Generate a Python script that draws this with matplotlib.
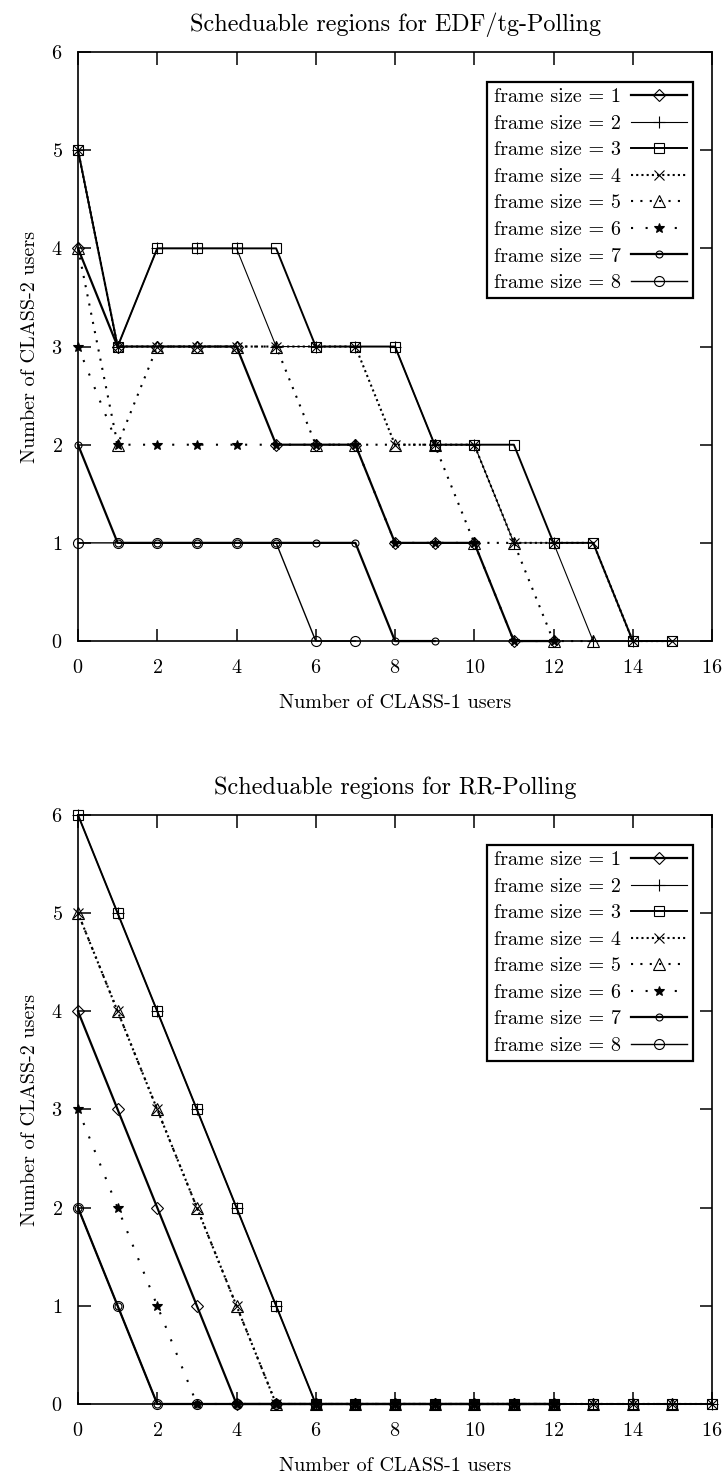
import matplotlib
matplotlib.use("Agg")
import matplotlib.pyplot as plt
from matplotlib.legend_handler import HandlerLine2D

plt.rcParams['font.family'] = ['cmr10', 'DejaVu Serif']
plt.rcParams['axes.formatter.use_mathtext'] = True
plt.rcParams['font.size'] = 14.5

# frame sizes 1..8, values of CLASS-2 users for CLASS-1 users = 0, 1, 2, ...
frames = [1, 2, 3, 4, 5, 6, 7, 8]

edf_f1 = [4, 3, 3, 3, 3, 2, 2, 2, 1, 1, 1, 0, 0]
edf_f2 = [5, 3, 4, 4, 4, 3, 3, 3, 3, 2, 2, 1, 1, 0, 0]
edf_f3 = [5, 3, 4, 4, 4, 4, 3, 3, 3, 2, 2, 2, 1, 1, 0, 0]
edf_f4 = [5, 3, 3, 3, 3, 3, 3, 3, 2, 2, 2, 1, 1, 1, 0, 0]
edf_f5 = [4, 2, 3, 3, 3, 3, 2, 2, 2, 2, 1, 1, 0, 0]
edf_f6 = [3, 2, 2, 2, 2, 2, 2, 2, 1, 1, 1, 0, 0]
edf_f7 = [2, 1, 1, 1, 1, 1, 1, 1, 0, 0]
edf_f8 = [1, 1, 1, 1, 1, 1, 0, 0]

rr_f1 = [4, 3, 2, 1, 0, 0, 0, 0, 0, 0, 0, 0, 0]
rr_f2 = [6, 5, 4, 3, 2, 1, 0, 0, 0, 0, 0, 0, 0, 0, 0, 0, 0]
rr_f3 = [6, 5, 4, 3, 2, 1, 0, 0, 0, 0, 0, 0, 0, 0, 0, 0, 0]
rr_f4 = [5, 4, 3, 2, 1, 0, 0, 0, 0, 0, 0, 0, 0, 0, 0, 0, 0]
rr_f5 = [5, 4, 3, 2, 1, 0, 0, 0, 0, 0, 0, 0, 0, 0, 0, 0]
rr_f6 = [3, 2, 1, 0, 0, 0, 0, 0, 0, 0, 0, 0, 0]
rr_f7 = [2, 1, 0, 0, 0, 0, 0, 0, 0, 0, 0, 0, 0]
rr_f8 = [2, 1, 0, 0, 0, 0, 0, 0, 0, 0, 0, 0, 0]

edf = [edf_f1, edf_f2, edf_f3, edf_f4, edf_f5, edf_f6, edf_f7, edf_f8]
rr = [rr_f1, rr_f2, rr_f3, rr_f4, rr_f5, rr_f6, rr_f7, rr_f8]

titles = ["Scheduable regions for EDF/tg-Polling", "Scheduable regions for RR-Polling"]

# gnuplot-like line types
styles = [
    dict(ls='-', lw=1.6, marker='D', ms=6, mfc='none'),
    dict(ls='-', lw=0.8, marker='+', ms=8, mfc='none'),
    dict(ls='-', lw=1.4, marker='s', ms=7.5, mfc='none'),
    dict(ls=(0, (1, 1.5)), lw=1.5, marker='x', ms=6.5, mfc='none'),
    dict(ls=(0, (1, 3.5)), lw=1.5, marker='^', ms=9, mfc='none'),
    dict(ls=(0, (1, 6)), lw=1.5, marker='*', ms=7, mfc='k'),
    dict(ls='-', lw=1.6, marker='o', ms=5, mfc='none'),
    dict(ls='-', lw=1.0, marker='o', ms=7.2, mfc='none'),
]


# key sample: line with the point drawn near its left end, like gnuplot
class KeyLine(HandlerLine2D):
    def get_xdata(self, legend, xdescent, ydescent, width, height, fontsize):
        return [-xdescent, -xdescent + width], [-xdescent + 0.3 * width]


fig = plt.figure(figsize=(7.25, 14.74), dpi=100)
ax_top = fig.add_axes([0.1076, 0.5651, 0.8745, 0.3996])
ax_bot = fig.add_axes([0.1076, 0.0475, 0.8745, 0.3996])

for ax, data, title in [(ax_top, edf, titles[0]), (ax_bot, rr, titles[1])]:
    lines = []
    for fs, ys, st in zip(frames, data, styles):
        ln, = ax.plot(range(len(ys)), ys, color='k', mec='k', mew=0.8,
                      label="frame size = %d" % fs, clip_on=False, **st)
        lines.append(ln)
    ax.set_xlim(0, 16)
    ax.set_ylim(0, 6)
    ax.set_xticks(range(0, 17, 2))
    ax.set_yticks(range(0, 7))
    ax.tick_params(direction='in', length=9, width=1.1, top=True, right=True)
    ax.tick_params(axis='x', pad=13)
    ax.tick_params(axis='y', pad=11)
    for sp in ax.spines.values():
        sp.set_linewidth(1.2)
    ax.set_title(title, pad=15)
    ax.set_xlabel("Number of CLASS-1 users", labelpad=12)
    ax.set_ylabel("Number of CLASS-2 users", labelpad=9)
    leg = ax.legend(handler_map={ln: KeyLine() for ln in lines},
                    loc='upper right', bbox_to_anchor=(0.970, 0.949), markerfirst=False,
                    numpoints=1, handlelength=2.8, labelspacing=0.42, borderpad=0.3,
                    borderaxespad=0, fancybox=False, edgecolor='k', framealpha=1,
                    handletextpad=0.5)
    leg.get_frame().set_linewidth(1.6)

fig.savefig("out.png", dpi=100)
